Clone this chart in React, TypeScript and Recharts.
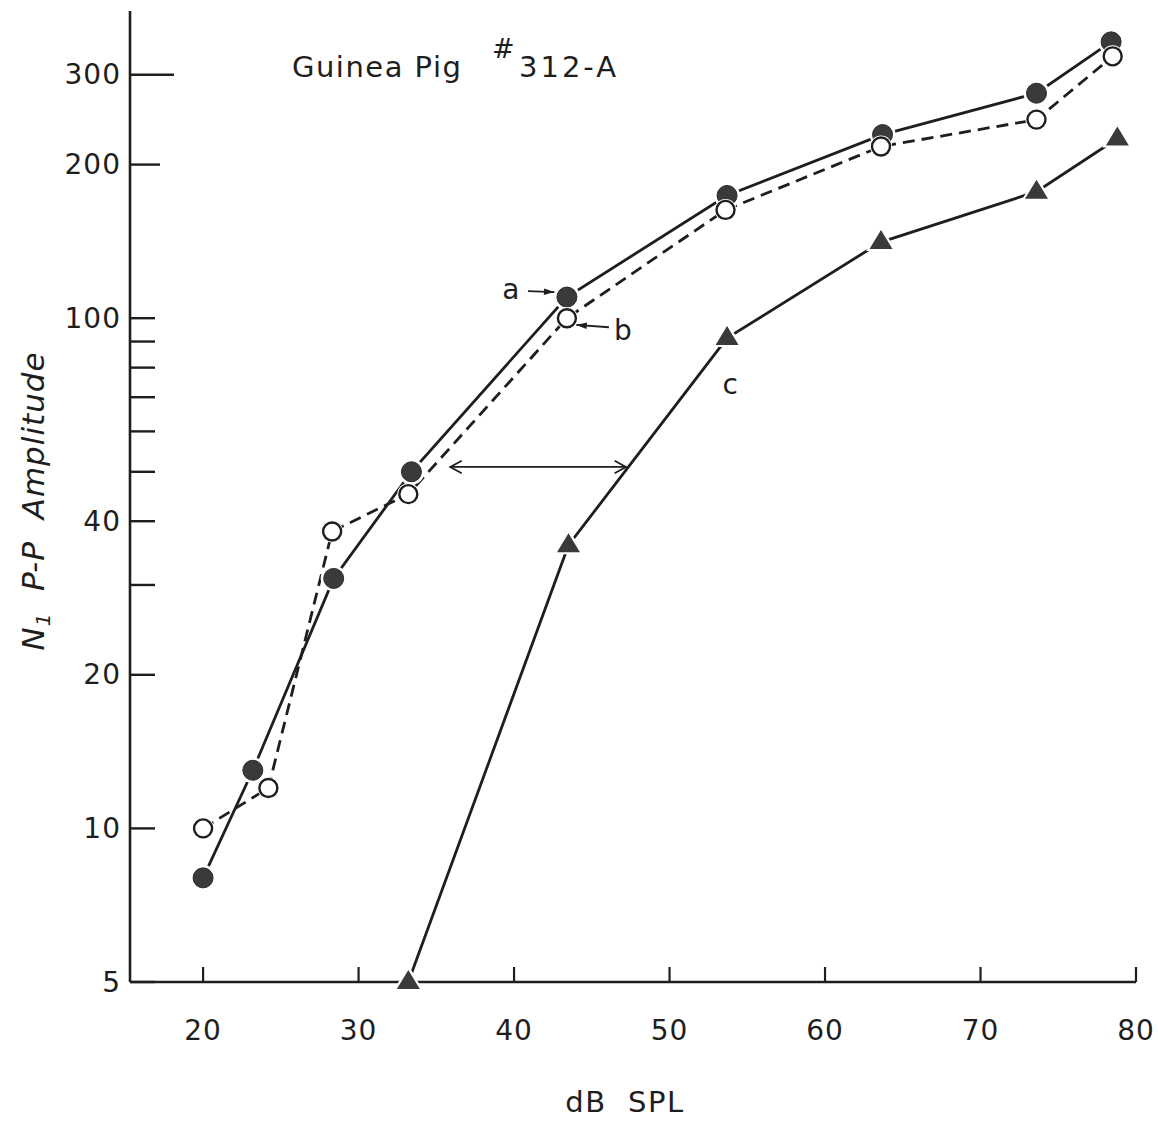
import {
  ComposedChart,
  Line,
  XAxis,
  YAxis,
  ReferenceLine,
  ReferenceDot,
} from "recharts";

// curve a: filled circles, solid line
const levelsA = [20, 23.2, 28.4, 33.4, 43.4, 53.7, 63.7, 73.6, 78.4];
const ampA = [8, 13, 30.9, 50, 110, 174, 229, 276, 348];

// curve b: open circles, dashed line
const levelsB = [20, 24.2, 28.3, 33.2, 43.4, 53.6, 63.6, 73.6, 78.5];
const ampB = [10, 12, 38.2, 45.2, 100, 163, 217, 245, 326];

// curve c: triangles, solid line
const levelsC = [33.2, 43.5, 53.7, 63.6, 73.6, 78.8];
const ampC = [5, 35.9, 91.4, 141, 177, 225];

const xTicks = [20, 30, 40, 50, 60, 70, 80];
const yTicks = [5, 10, 20, 30, 40, 50, 60, 70, 80, 90, 100, 200, 300];
const yLabelled = [5, 10, 20, 40, 100, 200, 300];

const toPoints = (xs: number[], ys: number[]) =>
  xs.map((x, i) => ({ x, y: ys[i] }));

const dataA = toPoints(levelsA, ampA);
const dataB = toPoints(levelsB, ampB);
const dataC = toPoints(levelsC, ampC);

const INK = "#1e1e1e";
const FONT = "'DejaVu Sans', sans-serif";

const YTick = (props: any) => {
  const { x, y, payload } = props;
  const v = payload.value;
  const len = v === 300 ? 44 : v === 200 ? 30 : 25;
  return (
    <g>
      <line x1={x} x2={x + len} y1={y} y2={y} stroke={INK} strokeWidth={2.4} />
      {yLabelled.includes(v) && (
        <text
          x={x - 9}
          y={y}
          textAnchor="end"
          dominantBaseline="central"
          fontFamily={FONT}
          fontSize={28}
          letterSpacing={1}
          fill={INK}
        >
          {v}
        </text>
      )}
    </g>
  );
};

const XTick = (props: any) => {
  const { x, y, payload } = props;
  return (
    <g>
      <line x1={x} x2={x} y1={y} y2={y - 15} stroke={INK} strokeWidth={2.2} />
      <text
        x={x}
        y={y + 58}
        textAnchor="middle"
        fontFamily={FONT}
        fontSize={28}
        letterSpacing={1}
        fill={INK}
      >
        {payload.value}
      </text>
    </g>
  );
};

const FilledDot = (p: any) => (
  <g key={p.key}>
    <circle cx={p.cx} cy={p.cy} r={13} fill="#fff" />
    <circle cx={p.cx} cy={p.cy} r={10} fill="#3a3a3a" stroke="#2a2a2a" strokeWidth={1} />
  </g>
);
const OpenDot = (p: any) => (
  <g key={p.key}>
    <circle cx={p.cx} cy={p.cy} r={11} fill="#fff" />
    <circle cx={p.cx} cy={p.cy} r={9} fill="#fff" stroke={INK} strokeWidth={2.4} />
  </g>
);
const TriDot = (p: any) => (
  <g key={p.key}>
    <polygon
      points={`${p.cx},${p.cy - 17} ${p.cx - 15},${p.cy + 9} ${p.cx + 15},${p.cy + 9}`}
      fill="#fff"
    />
    <polygon
      points={`${p.cx},${p.cy - 12} ${p.cx - 11.5},${p.cy + 7} ${p.cx + 11.5},${p.cy + 7}`}
      fill="#3a3a3a"
    />
  </g>
);

const head = (x: number, y: number, a: number, filled: boolean) => {
  const h = filled ? 11 : 13;
  const w = filled ? 0.3 : 0.5;
  const p1 = `${x - h * Math.cos(a - w)},${y - h * Math.sin(a - w)}`;
  const p2 = `${x - h * Math.cos(a + w)},${y - h * Math.sin(a + w)}`;
  return filled ? (
    <path d={`M${p1} L${x},${y} L${p2} Z`} fill={INK} />
  ) : (
    <path d={`M${p1} L${x},${y} L${p2}`} fill="none" stroke={INK} strokeWidth={1.8} />
  );
};

const arrowShape = (both: boolean) => (p: any) => {
  const { x1, y1, x2, y2 } = p;
  const a = Math.atan2(y2 - y1, x2 - x1);
  return (
    <g>
      <line x1={x1} y1={y1} x2={x2} y2={y2} stroke={INK} strokeWidth={1.8} />
      {head(x2, y2, a, !both)}
      {both && head(x1, y1, a + Math.PI, false)}
    </g>
  );
};

const letterShape = (s: string) => (p: any) => (
  <text
    x={p.cx}
    y={p.cy}
    textAnchor="middle"
    dominantBaseline="central"
    fontFamily={FONT}
    fontSize={28}
    fill={INK}
  >
    {s}
  </text>
);

export default function App() {
  return (
    <div
      style={{
        position: "absolute",
        left: 0,
        top: 0,
        width: 1158,
        height: 1125,
        background: "#fff",
      }}
    >
      <ComposedChart
        width={1158}
        height={1125}
        margin={{ top: 11, right: 22, bottom: 0, left: 0 }}
      >
        <XAxis
          dataKey="x"
          type="number"
          domain={[15.3, 80]}
          ticks={xTicks}
          interval={0}
          height={143}
          tickSize={0}
          tickMargin={0}
          tickLine={false}
          axisLine={{ stroke: INK, strokeWidth: 2.6 }}
          tick={<XTick />}
        />
        <YAxis
          dataKey="y"
          type="number"
          scale="log"
          domain={[5, 400]}
          ticks={yTicks}
          interval={0}
          width={130}
          tickSize={0}
          tickMargin={0}
          tickLine={false}
          axisLine={{ stroke: INK, strokeWidth: 2.6 }}
          tick={<YTick />}
        />
        <Line
          data={dataA}
          dataKey="y"
          stroke={INK}
          strokeWidth={2.8}
          dot={FilledDot}
          activeDot={false}
          isAnimationActive={false}
        />
        <Line
          data={dataB}
          dataKey="y"
          stroke={INK}
          strokeWidth={2.8}
          strokeDasharray="12 7"
          dot={OpenDot}
          activeDot={false}
          isAnimationActive={false}
        />
        <Line
          data={dataC}
          dataKey="y"
          stroke={INK}
          strokeWidth={2.8}
          dot={TriDot}
          activeDot={false}
          isAnimationActive={false}
        />
        <ReferenceLine
          segment={[{ x: 40.9, y: 113 }, { x: 42.6, y: 112.5 }]}
          shape={arrowShape(false)}
          ifOverflow="visible"
        />
        <ReferenceLine
          segment={[{ x: 46.1, y: 96 }, { x: 44, y: 97 }]}
          shape={arrowShape(false)}
          ifOverflow="visible"
        />
        <ReferenceLine
          segment={[{ x: 35.9, y: 51.1 }, { x: 47.2, y: 51.1 }]}
          shape={arrowShape(true)}
          ifOverflow="visible"
        />
        <ReferenceDot x={39.8} y={114} shape={letterShape("a")} ifOverflow="visible" />
        <ReferenceDot x={47} y={94.5} shape={letterShape("b")} ifOverflow="visible" />
        <ReferenceDot x={53.9} y={74} shape={letterShape("c")} ifOverflow="visible" />
      </ComposedChart>
      <svg
        width={1158}
        height={1125}
        style={{ position: "absolute", left: 0, top: 0, pointerEvents: "none" }}
      >
        <text x={292} y={77} fontFamily={FONT} fontSize={29} letterSpacing={1.5} fill={INK}>
          Guinea Pig
          <tspan x={492} y={58} fontSize={27}>#</tspan>
          <tspan x={519} y={77} letterSpacing={3}>312-A</tspan>
        </text>
        <text
          transform="translate(44,501) rotate(-90)"
          textAnchor="middle"
          fontFamily={FONT}
          fontStyle="italic"
          fontSize={31}
          letterSpacing={1}
          fill={INK}
          style={{ whiteSpace: "pre" }}
        >
          N<tspan fontSize={20} dy={6}>1</tspan>
          <tspan dy={-6}>{"  P-P  Amplitude"}</tspan>
        </text>
        <text
          x={625}
          y={1112}
          textAnchor="middle"
          fontFamily={FONT}
          fontSize={29}
          letterSpacing={1.5}
          fill={INK}
          style={{ whiteSpace: "pre" }}
        >
          {"dB  SPL"}
        </text>
      </svg>
    </div>
  );
}
